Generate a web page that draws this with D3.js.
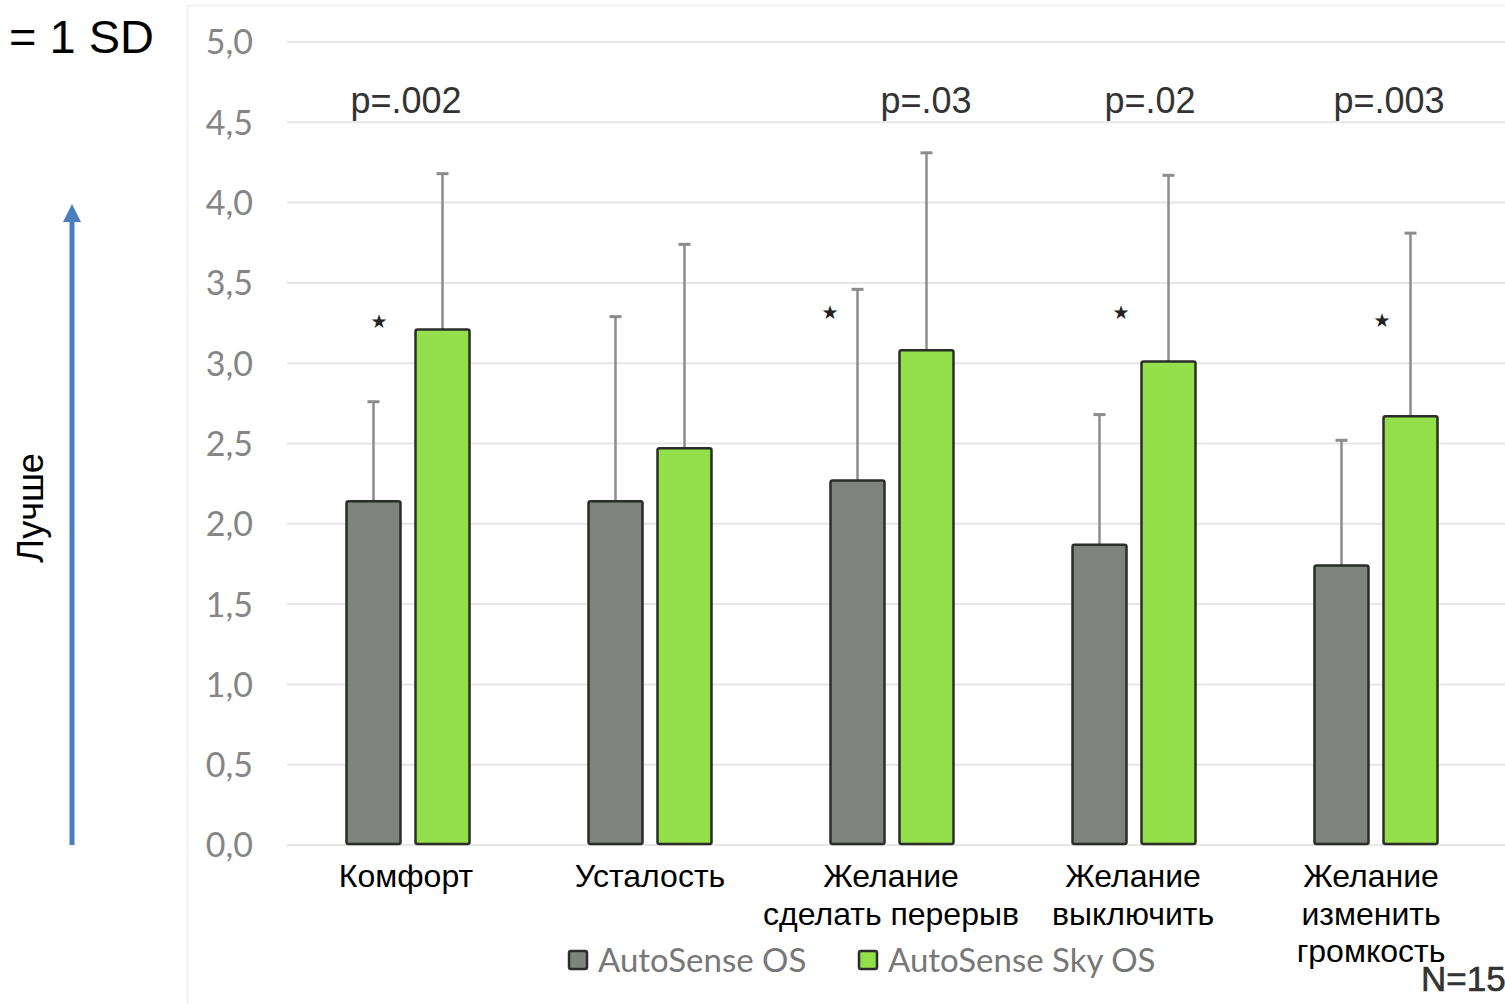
<!DOCTYPE html>
<html>
<head>
<meta charset="utf-8">
<script src="https://cdn.jsdelivr.net/npm/d3@7"></script>
<style>
  html, body { margin: 0; padding: 0; background: #fff; }
  svg { display: block; }
</style>
</head>
<body>
<svg id="chart" width="1505" height="1004"></svg>
<script>
// Questionnaire ratings: mean score and +1 SD per category, for the two hearing-aid programs
const categories = [
  ["Комфорт"],
  ["Усталость"],
  ["Желание", "сделать перерыв"],
  ["Желание", "выключить"],
  ["Желание", "изменить", "громкость"]
];
const seriesNames = ["AutoSense OS", "AutoSense Sky OS"];
const osMeans  = [2.14, 2.14, 2.27, 1.87, 1.74];
const osSD     = [0.62, 1.15, 1.19, 0.81, 0.78];
const skyMeans = [3.21, 2.47, 3.08, 3.01, 2.67];
const skySD    = [0.97, 1.27, 1.23, 1.16, 1.14];
const pValues  = ["p=.002", "", "p=.03", "p=.02", "p=.003"];
const starShown = [true, false, true, true, true];
const starLevel = [3.26, 0, 3.32, 3.32, 3.27];
const yTicks = [0, 0.5, 1, 1.5, 2, 2.5, 3, 3.5, 4, 4.5, 5];

const W = 1505, H = 1004;
const svg = d3.select("#chart");

// Layout constants
const plot = { left: 287, right: 1497, top: 42, bottom: 845 };
const colors = { os: "#7e837d", sky: "#93e04b", edge: "#2a2d28", err: "#8c8c8c", grid: "#e6e6e6" };
const starDx = [-29, 0, -62, -13, 6];    // asterisk offset from group centre
const pLabelDx = [-2, 0, 34, 16, 13];    // p-label offset from group centre
const catDx = [-2, 0, -1, -1, -5];       // category label offset from group centre

const x = d3.scaleBand().domain(d3.range(categories.length)).range([plot.left, plot.right]);
const y = d3.scaleLinear().domain([0, 5]).range([plot.bottom, plot.top]);
const barW = 56, barGap = 13;

// faint chart frame
svg.append("rect")
  .attr("x", 187.5).attr("y", 5.5).attr("width", W).attr("height", H)
  .attr("fill", "none").attr("stroke", "#efefef").attr("stroke-width", 1.5);

// gridlines
svg.append("g").selectAll("line").data(yTicks).join("line")
  .attr("x1", plot.left).attr("x2", plot.right + 10)
  .attr("y1", d => y(d)).attr("y2", d => y(d))
  .attr("stroke", colors.grid).attr("stroke-width", 2);

// y axis labels
const yAxis = d3.axisLeft(y).tickValues(yTicks).tickSize(0).tickPadding(0)
  .tickFormat(d => d3.format(".1f")(d).replace(".", ","));
const yG = svg.append("g").attr("transform", `translate(253,0)`).call(yAxis);
yG.select(".domain").remove();
yG.selectAll("text")
  .attr("font-family", "Lato, 'Open Sans', sans-serif")
  .attr("font-size", 34).attr("fill", "#858585").attr("dy", "0.35em");

// bars with error bars
const rows = categories.map((c, i) => ({
  i, cx: x(i) + x.bandwidth() / 2,
  vals: [
    { m: osMeans[i], sd: osSD[i], fill: colors.os, off: -(barGap / 2 + barW / 2) },
    { m: skyMeans[i], sd: skySD[i], fill: colors.sky, off: (barGap / 2 + barW / 2) }
  ]
}));

const groups = svg.append("g").selectAll("g").data(rows).join("g");

groups.selectAll("line.err").data(d => d.vals.map(v => ({ ...v, cx: d.cx }))).join("line")
  .attr("class", "err")
  .attr("x1", d => d.cx + d.off).attr("x2", d => d.cx + d.off)
  .attr("y1", d => y(d.m)).attr("y2", d => y(d.m + d.sd))
  .attr("stroke", colors.err).attr("stroke-width", 2.5);
groups.selectAll("line.cap").data(d => d.vals.map(v => ({ ...v, cx: d.cx }))).join("line")
  .attr("class", "cap")
  .attr("x1", d => d.cx + d.off - 6).attr("x2", d => d.cx + d.off + 6)
  .attr("y1", d => y(d.m + d.sd)).attr("y2", d => y(d.m + d.sd))
  .attr("stroke", colors.err).attr("stroke-width", 3);

groups.selectAll("rect").data(d => d.vals.map(v => ({ ...v, cx: d.cx }))).join("rect")
  .attr("x", d => d.cx + d.off - barW / 2 + 1)
  .attr("width", barW - 2)
  .attr("y", d => y(d.m))
  .attr("height", d => y(0) - y(d.m) - 1)
  .attr("rx", 2)
  .attr("fill", d => d.fill).attr("stroke", colors.edge).attr("stroke-width", 2.5);

// significance asterisks
svg.append("g").selectAll("text").data(rows.filter(r => starShown[r.i])).join("text")
  .attr("x", d => d.cx + starDx[d.i]).attr("y", d => y(starLevel[d.i]) + 7)
  .attr("text-anchor", "middle")
  .attr("font-family", "'DejaVu Sans', sans-serif").attr("font-size", 19)
  .attr("fill", "#222").text("★");

// p values
svg.append("g").selectAll("text").data(rows.filter(r => pValues[r.i])).join("text")
  .attr("x", d => d.cx + pLabelDx[d.i]).attr("y", 113)
  .attr("text-anchor", "middle")
  .attr("font-family", "'Liberation Sans', Arial, sans-serif").attr("font-size", 36)
  .attr("fill", "#333").text(d => pValues[d.i]);

// category labels
const catG = svg.append("g").selectAll("text").data(rows).join("text")
  .attr("y", 887)
  .attr("text-anchor", "middle")
  .attr("font-family", "'Liberation Sans', Arial, sans-serif").attr("font-size", 32)
  .attr("fill", "#000");
catG.selectAll("tspan").data(d => categories[d.i].map(t => ({ t, cx: d.cx + catDx[d.i] }))).join("tspan")
  .attr("x", d => d.cx).attr("dy", (d, k) => k === 0 ? 0 : 37.5).text(d => d.t);

// legend
const legend = svg.append("g").attr("font-family", "Lato, 'Open Sans', sans-serif");
const legendX = [568, 858];
const legendFill = [colors.os, colors.sky];
seriesNames.forEach((name, k) => {
  legend.append("rect").attr("x", legendX[k] + 1).attr("y", 951).attr("width", 18).attr("height", 18)
    .attr("rx", 2).attr("fill", legendFill[k]).attr("stroke", colors.edge).attr("stroke-width", 2.5);
  legend.append("text").attr("x", legendX[k] + 30).attr("y", 972)
    .attr("font-size", 33).attr("fill", "#777").text(name);
});

// sample size
svg.append("text").attr("x", 1421).attr("y", 991)
  .attr("font-family", "'Liberation Sans', Arial, sans-serif").attr("font-size", 35)
  .attr("fill", "#333").attr("stroke", "#333").attr("stroke-width", 0.6).text("N=15");

// "better" direction arrow
const arrowBlue = "#4a7ebf";
svg.append("line").attr("x1", 72).attr("x2", 72).attr("y1", y(0)).attr("y2", 220)
  .attr("stroke", arrowBlue).attr("stroke-width", 5);
svg.append("path").attr("d", "M72,204 L63,222 L81,222 Z").attr("fill", arrowBlue);
svg.append("text")
  .attr("transform", "translate(43,508) rotate(-90)")
  .attr("text-anchor", "middle")
  .attr("font-family", "'Liberation Sans', Arial, sans-serif").attr("font-size", 36)
  .attr("fill", "#000").text("Лучше");

// SD legend note
svg.append("text").attr("x", 9).attr("y", 53)
  .attr("font-family", "'Liberation Sans', Arial, sans-serif").attr("font-size", 47)
  .attr("fill", "#000").text("= 1 SD");
</script>
</body>
</html>
